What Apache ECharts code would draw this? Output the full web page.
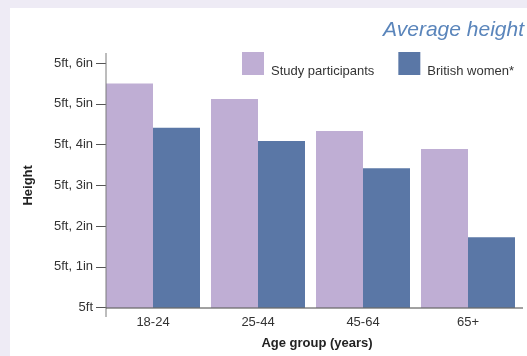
<!DOCTYPE html>
<html>
<head>
<meta charset="utf-8">
<style>
  html, body { margin: 0; padding: 0; background: #eeebf5; }
  #chart { width: 527px; height: 356px; }
</style>
<script src="https://cdn.jsdelivr.net/npm/echarts@6/dist/echarts.min.js"></script>
</head>
<body>
<div id="chart"></div>
<script>
// Age groups and average heights in inches (60 in = 5ft)
const ageGroups = ['18-24', '25-44', '45-64', '65+'];
const studyParticipants = [65.5, 65.12, 64.33, 63.89];
const britishWomen = [64.41, 64.09, 63.42, 61.73];
const tickValues = [60, 61, 62, 63, 64, 65, 66];

function feetInches(v) {
  const ft = Math.floor(v / 12);
  const inch = Math.round(v - ft * 12);
  return inch === 0 ? ft + 'ft' : ft + 'ft, ' + inch + 'in';
}

const FONT = '"Liberation Sans", Arial, Helvetica, sans-serif';
const chart = echarts.init(document.getElementById('chart'));

chart.setOption({
  backgroundColor: '#eeebf5',
  animation: false,
  textStyle: { fontFamily: FONT },
  title: {
    text: 'Average height',
    right: 3,
    top: 20,
    padding: 0,
    textStyle: { fontFamily: FONT, fontStyle: 'italic', fontWeight: 'normal', fontSize: 21, color: '#5a85bb' }
  },
  legend: {
    left: 242,
    top: 52,
    padding: 0,
    itemWidth: 22,
    itemHeight: 23,
    itemGap: 24,
    icon: 'rect',
    formatter: '{t|{name}}',
    textStyle: {
      fontFamily: FONT, fontSize: 13, color: '#333',
      rich: { t: { fontFamily: FONT, fontSize: 13, color: '#333', padding: [15, 0, 0, 2] } }
    },
    data: ['Study participants', 'British women*']
  },
  grid: { left: 100.5, right: 6.5, top: 63, bottom: 48.3, containLabel: false },
  xAxis: {
    type: 'category',
    data: ageGroups,
    axisLine: { show: false },
    axisTick: { show: false },
    axisLabel: { fontFamily: FONT, fontSize: 13, color: '#333', margin: 8 },
    name: 'Age group (years)',
    nameLocation: 'middle',
    nameGap: 29,
    nameTextStyle: { fontFamily: FONT, fontSize: 13, fontWeight: 'bold', color: '#222', padding: [0, 0, 0, 13] }
  },
  yAxis: {
    type: 'value',
    min: 60,
    max: 66,
    interval: 1,
    offset: -5.5,
    splitLine: { show: false },
    axisLine: { show: false },
    axisTick: { show: true, length: 10, lineStyle: { color: '#555' } },
    axisLabel: { fontFamily: FONT, fontSize: 13, color: '#333', margin: 13, formatter: feetInches },
    name: 'Height',
    nameLocation: 'middle',
    nameGap: 71,
    nameTextStyle: { fontFamily: FONT, fontSize: 13, fontWeight: 'bold', color: '#222' }
  },
  graphic: [
    { type: 'rect', z: -10, shape: { x: 10, y: 8, width: 520, height: 350 }, style: { fill: '#ffffff' } },
    { type: 'line', z: 10, shape: { x1: 106, y1: 53, x2: 106, y2: 317 }, style: { stroke: '#7a7a7a', lineWidth: 1 } },
    { type: 'line', z: 10, shape: { x1: 106, y1: 308, x2: 523, y2: 308 }, style: { stroke: '#444', lineWidth: 1 } }
  ],
  series: [
    {
      name: 'Study participants',
      type: 'bar',
      data: studyParticipants,
      barWidth: 47,
      barGap: '0%',
      itemStyle: { color: '#bfaed4' }
    },
    {
      name: 'British women*',
      type: 'bar',
      data: britishWomen,
      barWidth: 47,
      itemStyle: { color: '#5a77a6' }
    }
  ]
});
</script>
</body>
</html>
